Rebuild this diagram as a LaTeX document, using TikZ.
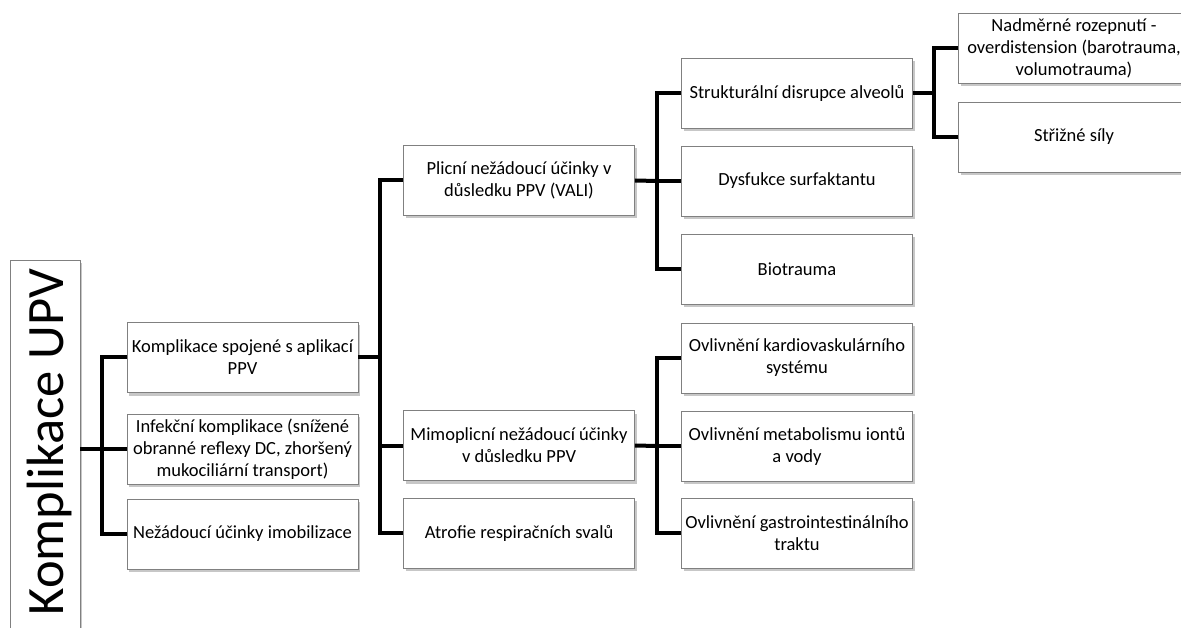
\documentclass[tikz,border=0pt]{standalone}
\usepackage{fontspec}
\setmainfont{Carlito}
\usetikzlibrary{shadows}
\begin{document}
\begin{tikzpicture}[x=1pt,y=-1pt,
  box/.style={draw=black!50, line width=0.9pt, fill=white, minimum width=231pt, minimum height=70pt,
    inner sep=1pt, align=center, font=\fontsize{18.5}{22}\selectfont,
    general shadow={shadow xshift=2pt, shadow yshift=-3pt, fill=black, opacity=0.22}},
  rootbox/.style={draw=black!50, line width=0.9pt, fill=white, minimum width=70pt, minimum height=380pt,
    inner sep=0pt, general shadow={shadow xshift=2pt, shadow yshift=-3pt, fill=black, opacity=0.22}},
  conn/.style={draw=black, line width=4pt, line join=miter}]
\useasboundingbox (0,0) rectangle (1181,628);
\clip (0,0) rectangle (1181,628);
% root
\node[rootbox] (root) at (45,450) {};
\node[rotate=90, inner sep=0pt, font=\fontsize{52.5}{60}\selectfont] (roottext) at (50,442) {Komplikace UPV};
% level 1
\node[box] (b1) at (242.5,357.5) {Komplikace spojené s aplikací\\PPV};
\node[box] (b2) at (242.5,449) {Infekční komplikace (snížené\\obranné reflexy DC, zhoršený\\mukociliární transport)};
\node[box] (b3) at (242.5,534) {Nežádoucí účinky imobilizace};
% level 2
\node[box] (c1) at (519,180.5) {Plicní nežádoucí účinky v\\důsledku PPV (VALI)};
\node[box] (c2) at (519,445.5) {Mimoplicní nežádoucí účinky\\v důsledku PPV};
\node[box] (c3) at (519,533) {Atrofie respiračních svalů};
% level 3 upper
\node[box] (d1) at (797,93) {Strukturální disrupce alveolů};
\node[box] (d2) at (797,181) {Dysfukce surfaktantu};
\node[box] (d3) at (797,269) {Biotrauma};
% level 3 lower
\node[box] (e1) at (797,358) {Ovlivnění kardiovaskulárního\\systému};
\node[box] (e2) at (797,446) {Ovlivnění metabolismu iontů\\a vody};
\node[box] (e3) at (797,533) {Ovlivnění gastrointestinálního\\traktu};
% level 4
\node[box] (f1) at (1074,48.5) {Nadměrné rozepnutí -\\overdistension (barotrauma,\\volumotrauma)};
\node[box] (f2) at (1074,137) {Střižné síly};
% junctions
\coordinate (j0) at (102,449);
\coordinate (j1) at (380,357.5);
\coordinate (j2) at (657,181);
\coordinate (j3) at (657,446);
\coordinate (j4) at (934,93);
% connectors
\draw[conn] (root.east |- j0) -- (b2.west);
\draw[conn] (b1.west) -| (j0) |- (b3.west);
\draw[conn] (b1.east) -- (j1);
\draw[conn] (c1.west) -| (j1) |- (c3.west);
\draw[conn] (j1 |- c2.west) -- (c2.west);
\draw[conn] (c1.east) -- (j2);
\draw[conn] (d1.west) -| (j2) |- (d3.west);
\draw[conn] (j2) -- (d2.west);
\draw[conn] (c2.east) -- (j3);
\draw[conn] (e1.west) -| (j3) |- (e3.west);
\draw[conn] (j3) -- (e2.west);
\draw[conn] (d1.east) -- (j4);
\draw[conn] (f1.west) -| (j4) |- (f2.west);
\end{tikzpicture}
\end{document}
